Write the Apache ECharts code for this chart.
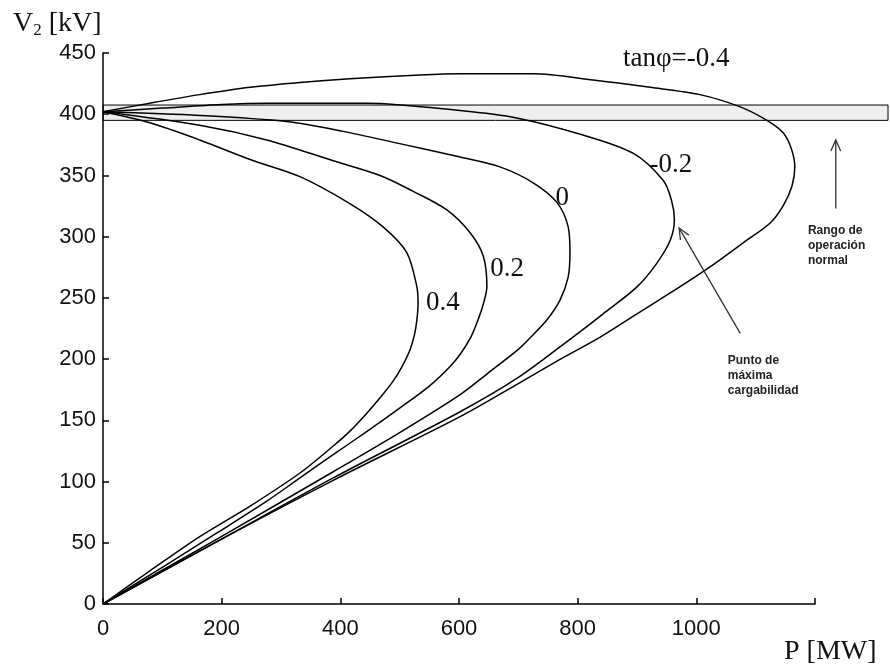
<!DOCTYPE html>
<html>
<head>
<meta charset="utf-8">
<script src="https://cdn.jsdelivr.net/npm/echarts@6/dist/echarts.min.js"></script>
<style>html,body{margin:0;padding:0;background:#fff}#c{width:890px;height:667px}</style>
</head>
<body>
<div id="c"></div>
<script>
// ---- data (P [MW], V2 [kV]) ----
const xTicks = [0, 200, 400, 600, 800, 1000, 1200];
const yTicks = [0, 50, 100, 150, 200, 250, 300, 350, 400, 450];
const curveNames = ['tanφ=-0.4', '-0.2', '0', '0.2', '0.4'];
const curveM04 = [[0,402],[79,409],[163,416],[248,422],[332,426],[416,429],[534,432],[602,433],[725,433],[826,428],[922,422],[1006,416],[1074,406],[1119,395],[1146,385],[1160,372],[1166,357],[1161,341],[1146,325],[1124,311],[1079,295],[1028,277],[972,259],[900,237],[838,218],[760,197],[700,180],[602,153],[388,101],[192,51],[0,0]];
const curveM02 = [[0,402],[100,405],[200,408],[276,409],[445,409],[602,403],[697,397],[809,383],[894,368],[944,346],[958,330],[963,314],[956,297],[933,278],[900,259],[843,237],[792,218],[700,185],[602,157],[388,103],[192,51],[0,0]];
const curve0 = [[0,402],[163,399],[310,394],[405,386],[500,376],[602,365],[669,357],[725,344],[765,328],[784,308],[787,287],[784,267],[770,248],[748,232],[717,216],[700,208],[650,189],[602,171],[500,140],[388,108],[192,53],[0,0]];
const curve02 = [[0,402],[163,391],[276,379],[388,362],[467,350],[523,337],[579,322],[619,303],[641,284],[647,259],[641,245],[632,232],[620,218],[602,204],[585,194],[550,178],[500,160],[445,141],[388,122],[332,103],[276,84],[192,58],[100,30],[0,0]];
const curve04 = [[0,402],[79,393],[163,379],[248,363],[332,349],[416,327],[472,308],[512,287],[529,259],[531,245],[529,232],[525,220],[517,207],[503,193],[489,182],[468,169],[445,156],[418,142],[388,129],[332,107],[248,80],[163,55],[79,27],[0,0]];
const bandV = [395, 407.5];          // normal operating range
const curveLabelAt = [[966,445],[957,359],[774,332],[681,274],[573,246]];

const curves = [curveM04, curveM02, curve0, curve02, curve04];

const chart = echarts.init(document.getElementById('c'), null, {renderer: 'canvas'});
const serif = '"Liberation Serif","Times New Roman",serif';
const sans = '"Liberation Sans",Arial,sans-serif';

chart.setOption({
  animation: false,
  backgroundColor: '#fff',
  grid: {left: 103, right: 75, top: 53, bottom: 63},
  xAxis: {
    type: 'value', min: 0, max: 1200, interval: 200,
    axisLine: {lineStyle: {color: '#000', width: 1.5}},
    axisTick: {inside: true, length: 6, lineStyle: {color: '#000', width: 1.5}},
    splitLine: {show: false},
    axisLabel: {color: '#111', fontFamily: sans, fontSize: 22, margin: 14,
      formatter: v => (xTicks.indexOf(v) >= 0 && v <= 1000) ? String(v) : ''}
  },
  yAxis: {
    type: 'value', min: 0, max: 450, interval: 50,
    axisLine: {show: true, lineStyle: {color: '#000', width: 1.5}},
    axisTick: {show: true, inside: true, length: 6, lineStyle: {color: '#000', width: 1.5}},
    splitLine: {show: false},
    axisLabel: {color: '#111', fontFamily: sans, fontSize: 22, margin: 7,
      formatter: v => yTicks.indexOf(v) >= 0 ? String(v) : ''}
  },
  series: curves.map((d, i) => ({
    name: curveNames[i], type: 'line', data: d, symbol: 'none', smooth: 0.3,
    lineStyle: {color: '#000', width: 1.5}, z: 3
  }))
});

const toPx = (p, v) => chart.convertToPixel({gridIndex: 0}, [p, v]);
const W = chart.getWidth();
const g = [];
// band
const bTop = toPx(0, bandV[1]), bBot = toPx(0, bandV[0]);
g.push({type: 'rect', z: -1, shape: {x: bTop[0], y: bTop[1], width: W - 2 - bTop[0], height: bBot[1] - bTop[1]},
  style: {fill: '#efefef', stroke: '#000', lineWidth: 1}});
// curve labels
curveNames.forEach((n, i) => {
  const p = toPx(curveLabelAt[i][0], curveLabelAt[i][1]);
  g.push({type: 'text', x: p[0], y: p[1], z: 10,
    style: {text: n, fill: '#111', font: '27px ' + serif, textAlign: 'center', textVerticalAlign: 'middle'}});
});
// axis titles
g.push({type: 'text', x: 13, y: 8, z: 10, style: {
  text: '{a|V}{b|2}{a| [kV]}', fill: '#111',
  rich: {a: {fontFamily: serif, fontSize: 28, fill: '#111'}, b: {fontFamily: serif, fontSize: 17, fill: '#111', padding: [14, 0, 0, 0]}}}});
g.push({type: 'text', x: 784, y: 638, z: 10, style: {text: 'P [MW]', fill: '#111', font: '28px ' + serif}});
// arrows
function arrow(a, b) {
  const pa = toPx(a[0], a[1]), pb = toPx(b[0], b[1]);
  const ang = Math.atan2(pb[1] - pa[1], pb[0] - pa[0]);
  const L = 12, s = 0.42;
  const h1 = [pb[0] - L * Math.cos(ang - s), pb[1] - L * Math.sin(ang - s)];
  const h2 = [pb[0] - L * Math.cos(ang + s), pb[1] - L * Math.sin(ang + s)];
  g.push({type: 'polyline', z: 10, shape: {points: [pa, pb]}, style: {stroke: '#333', lineWidth: 1.3, fill: null}});
  g.push({type: 'polyline', z: 10, shape: {points: [h1, pb, h2]}, style: {stroke: '#333', lineWidth: 1.3, fill: null}});
}
arrow([1235, 323], [1235, 379]);
arrow([1074, 221], [971, 307]);
// annotations
const a1 = toPx(1188, 311), a2 = toPx(1053, 205);
g.push({type: 'text', x: a1[0], y: a1[1], z: 10, style: {text: 'Rango de\noperación\nnormal', fill: '#222', font: 'bold 12px ' + sans, lineHeight: 15}});
g.push({type: 'text', x: a2[0], y: a2[1], z: 10, style: {text: 'Punto de\nmáxima\ncargabilidad', fill: '#222', font: 'bold 12px ' + sans, lineHeight: 15}});
chart.setOption({graphic: g});
</script>
</body>
</html>
